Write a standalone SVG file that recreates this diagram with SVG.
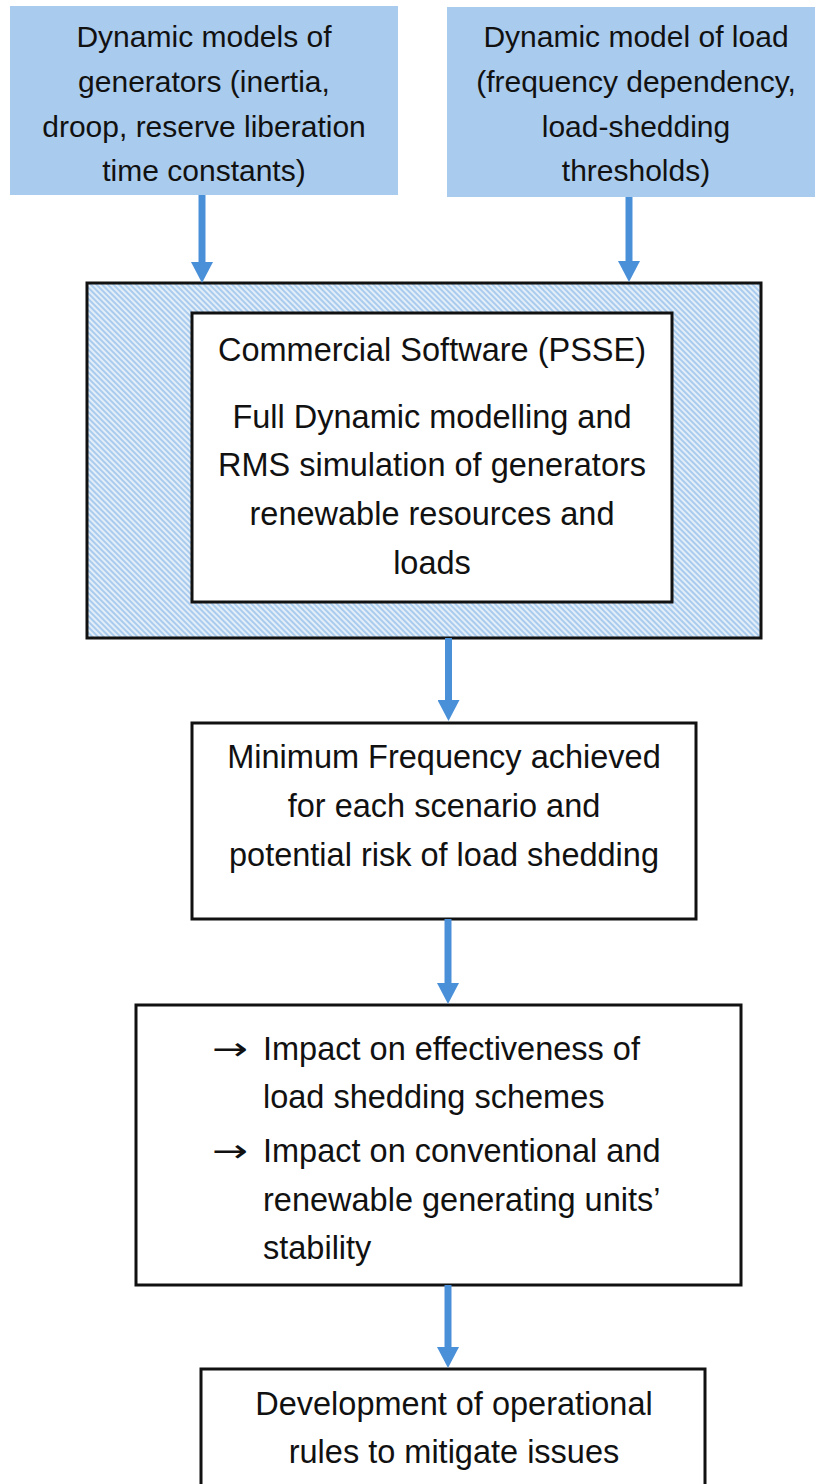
<svg xmlns="http://www.w3.org/2000/svg" width="815" height="1484" viewBox="0 0 815 1484">
  <style>
    .src { fill: #a9cbed; stroke: none; }
    .box { fill: #ffffff; stroke: #111111; stroke-width: 3; }
    .hatch { fill: url(#diag); stroke: #111111; stroke-width: 3; }
    .t30 { font-family: "Liberation Sans", Arial, sans-serif; font-size: 30px; fill: #111111; text-anchor: middle; }
    .t32 { font-family: "Liberation Sans", Arial, sans-serif; font-size: 32.5px; fill: #111111; text-anchor: middle; }
    .tl { font-family: "Liberation Sans", Arial, sans-serif; font-size: 32.5px; fill: #111111; }
    .bullet { font-family: "DejaVu Sans", sans-serif; font-size: 32px; fill: #111111; }
    .link { stroke: #4a90d9; stroke-width: 7; fill: none; marker-end: url(#head); }
  </style>
  <defs>
    <pattern id="diag" width="4" height="4" patternUnits="userSpaceOnUse" patternTransform="rotate(45)">
      <rect width="4" height="4" fill="#e3eef9"/>
      <rect width="4" height="2" fill="#a9cbed"/>
    </pattern>
    <marker id="head" viewBox="0 0 21 22" refX="0" refY="11" markerWidth="21" markerHeight="22" markerUnits="userSpaceOnUse" orient="auto">
      <path d="M0,0 L21,11 L0,22 Z" fill="#4a90d9"/>
    </marker>
  </defs>

  <!-- input: generator models -->
  <g id="gen-models">
    <rect class="src" x="10" y="6" width="388" height="189"/>
    <text class="t30" x="204" y="47">Dynamic models of</text>
    <text class="t30" x="204" y="92">generators (inertia,</text>
    <text class="t30" x="204" y="137">droop, reserve liberation</text>
    <text class="t30" x="204" y="181">time constants)</text>
  </g>

  <!-- input: load model -->
  <g id="load-model">
    <rect class="src" x="447" y="7" width="368" height="190"/>
    <text class="t30" x="636" y="47">Dynamic model of load</text>
    <text class="t30" x="636" y="92">(frequency dependency,</text>
    <text class="t30" x="636" y="137">load-shedding</text>
    <text class="t30" x="636" y="181">thresholds)</text>
  </g>

  <!-- simulation tool: hatched frame with inner description -->
  <g id="psse">
    <rect class="hatch" x="87" y="283" width="674" height="355"/>
    <rect class="box" x="192" y="313" width="480" height="289"/>
    <text class="t32" x="432" y="361">Commercial Software (PSSE)</text>
    <text class="t32" x="432" y="428">Full Dynamic modelling and</text>
    <text class="t32" x="432" y="476">RMS simulation of generators</text>
    <text class="t32" x="432" y="525">renewable resources and</text>
    <text class="t32" x="432" y="574">loads</text>
  </g>

  <!-- results -->
  <g id="min-frequency">
    <rect class="box" x="192" y="723" width="504" height="196"/>
    <text class="t32" x="444" y="768">Minimum Frequency achieved</text>
    <text class="t32" x="444" y="817">for each scenario and</text>
    <text class="t32" x="444" y="866">potential risk of load shedding</text>
  </g>

  <!-- impacts -->
  <g id="impacts">
    <rect class="box" x="136" y="1005" width="605" height="280"/>
    <text class="bullet" x="212" y="1060" textLength="36" lengthAdjust="spacingAndGlyphs">→</text>
    <text class="tl" x="263" y="1060">Impact on effectiveness of</text>
    <text class="tl" x="263" y="1108">load shedding schemes</text>
    <text class="bullet" x="212" y="1162" textLength="36" lengthAdjust="spacingAndGlyphs">→</text>
    <text class="tl" x="263" y="1162">Impact on conventional and</text>
    <text class="tl" x="263" y="1211">renewable generating units’</text>
    <text class="tl" x="263" y="1259">stability</text>
  </g>

  <!-- outcome -->
  <g id="operational-rules">
    <rect class="box" x="201" y="1369" width="504" height="130"/>
    <text class="t32" x="454" y="1415">Development of operational</text>
    <text class="t32" x="454" y="1463">rules to mitigate issues</text>
  </g>

  <!-- flow arrows -->
  <g id="connectors">
    <line class="link" x1="202" y1="195" x2="202" y2="262"/>
    <line class="link" x1="629" y1="197" x2="629" y2="261"/>
    <line class="link" x1="448.5" y1="638" x2="448.5" y2="700"/>
    <line class="link" x1="448" y1="919" x2="448" y2="983"/>
    <line class="link" x1="448" y1="1285" x2="448" y2="1347"/>
  </g>
</svg>
